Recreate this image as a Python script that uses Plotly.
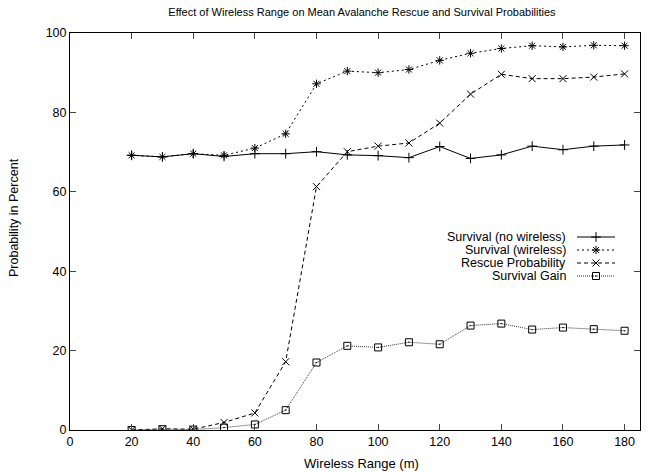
import plotly.graph_objects as go

ranges = [20, 30, 40, 50, 60, 70, 80, 90, 100, 110, 120, 130, 140, 150, 160, 170, 180]
survival_no_wireless = [69.2, 68.8, 69.6, 68.9, 69.6, 69.6, 70.1, 69.3, 69.1, 68.6, 71.4, 68.4, 69.3, 71.5, 70.6, 71.5, 71.8]
survival_wireless = [69.2, 68.8, 69.6, 69.2, 71.0, 74.6, 87.2, 90.4, 90.0, 90.8, 93.1, 94.9, 96.1, 96.8, 96.5, 96.9, 96.8]
rescue_probability = [0.0, 0.3, 0.2, 1.9, 4.3, 17.2, 61.3, 70.1, 71.5, 72.3, 77.3, 84.6, 89.6, 88.5, 88.5, 88.9, 89.7]
survival_gain = [0.0, 0.2, 0.1, 0.6, 1.4, 5.0, 17.0, 21.2, 20.8, 22.1, 21.6, 26.3, 26.8, 25.3, 25.8, 25.4, 25.0]

names = ["Survival (no wireless)", "Survival (wireless)", "Rescue Probability", "Survival Gain"]
series = [survival_no_wireless, survival_wireless, rescue_probability, survival_gain]
x_ticks = [0, 20, 40, 60, 80, 100, 120, 140, 160, 180]
y_ticks = [0, 20, 40, 60, 80, 100]

styles = [
    dict(dash="solid", symbol="cross-thin-open", color="black", lw=1.0, size=7),
    dict(dash="2px,3px", symbol="asterisk-open", color="black", lw=1.0, size=7),
    dict(dash="4px,3px", symbol="x-thin-open", color="black", lw=1.0, size=7),
    dict(dash="1px,1px", symbol="square-open-dot", color="#333333", lw=1.0, size=7),
]

FONT = "Liberation Sans, Arial, Helvetica, sans-serif"
fig = go.Figure()

for name, vals, st in zip(names, series, styles):
    fig.add_trace(go.Scatter(
        x=ranges, y=vals, mode="lines+markers", name=name, showlegend=False,
        line=dict(color=st["color"], width=st["lw"], dash=st["dash"]),
        marker=dict(symbol=st["symbol"], size=st["size"], color="black",
                    line=dict(width=1, color="black")),
    ))

# custom gnuplot-style key (text right, sample at right) on a pixel-overlay axis
L, R, T, B = 70, 640, 33, 430
key_rows = [237, 250, 263, 276]
for name, st, yk in zip(names, styles, key_rows):
    fig.add_trace(go.Scatter(
        x=[577, 596, 615], y=[yk, yk, yk], xaxis="x2", yaxis="y2",
        mode="lines", showlegend=False, hoverinfo="skip",
        line=dict(color=st["color"], width=st["lw"], dash=st["dash"]),
    ))
    fig.add_trace(go.Scatter(
        x=[596], y=[yk], xaxis="x2", yaxis="y2", mode="markers", showlegend=False,
        hoverinfo="skip",
        marker=dict(symbol=st["symbol"], size=st["size"], color="black",
                    line=dict(width=1, color="black")),
    ))
    fig.add_annotation(x=568, y=yk, xref="x2", yref="y2", text=name, showarrow=False,
                       xanchor="right", yanchor="middle",
                       font=dict(family=FONT, size=12.5, color="black"))

W, H = 651, 472
fig.update_layout(
    width=W, height=H,
    margin=dict(l=L, r=W - R, t=T, b=H - B),
    paper_bgcolor="white", plot_bgcolor="white",
    font=dict(family=FONT, size=12, color="black"),
    title=dict(text="Effect of Wireless Range on Mean Avalanche Rescue and Survival Probabilities",
               x=362 / W, xanchor="center", y=1 - 12 / H, yanchor="middle",
               yref="container", font=dict(size=11, color="black")),
    xaxis=dict(range=[0, 185], tickvals=x_ticks, ticks="inside", ticklen=6, mirror="ticks",
               showline=True, linecolor="black", linewidth=1, showgrid=False, zeroline=False,
               tickfont=dict(size=12.5)),
    yaxis=dict(range=[0, 100], tickvals=y_ticks, ticks="inside", ticklen=6, mirror="ticks",
               showline=True, linecolor="black", linewidth=1, showgrid=False, zeroline=False,
               tickfont=dict(size=12.5)),
    xaxis2=dict(range=[L, R], overlaying="x", visible=False, fixedrange=True),
    yaxis2=dict(range=[B, T], overlaying="y", visible=False, fixedrange=True),
)
fig.add_annotation(x=(361 - L) / (R - L), y=-(463 - B) / (B - T), xref="paper", yref="paper",
                   text="Wireless Range (m)", showarrow=False, xanchor="center", yanchor="middle",
                   font=dict(family=FONT, size=13, color="black"))
fig.add_annotation(x=-(L - 14) / (R - L), y=(B - 218) / (B - T), xref="paper", yref="paper",
                   text="Probability in Percent", showarrow=False, textangle=-90,
                   xanchor="center", yanchor="middle",
                   font=dict(family=FONT, size=12.5, color="black"))

fig.write_html("out.html")
